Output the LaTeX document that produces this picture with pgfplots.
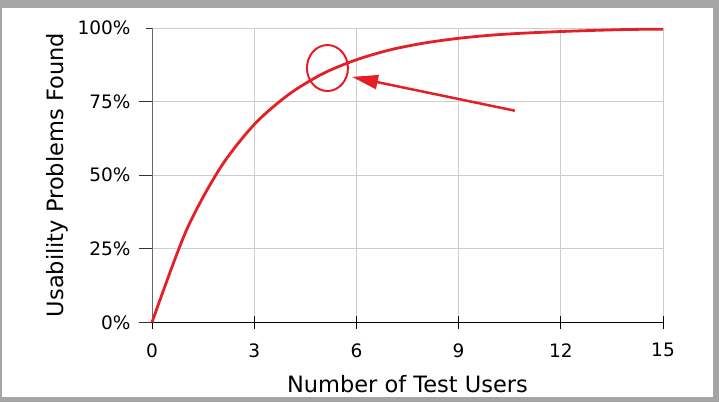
\documentclass[border=0pt]{standalone}
\usepackage{pgfplots}
\pgfplotsset{compat=1.18}
\usepackage{fontspec}
\setmainfont{DejaVu Sans}
\usetikzlibrary{arrows.meta}
\definecolor{curvered}{RGB}{228,32,38}
\definecolor{gridgray}{RGB}{205,205,205}
\definecolor{framegray}{RGB}{165,165,165}
\begin{document}
\begin{tikzpicture}[x=1pt,y=1pt]
\fill[framegray] (0,0) rectangle (719,402);
\fill[white] (2,5) rectangle (713,394);
\begin{axis}[
  at={(152pt,79.7pt)}, anchor=south west,
  scale only axis, width=511pt, height=294.3pt,
  xmin=0, xmax=15, ymin=0, ymax=100,
  axis x line*=bottom, axis y line*=left,
  x axis line style={black, line width=1pt, -},
  y axis line style={black!60, line width=1pt, -},
  xtick={0,3,6,9,12,15}, ytick={0,25,50,75,100},
  yticklabels={0\%,25\%,50\%,75\%,100\%},
  grid=major, major grid style={gridgray, line width=0.9pt},
  xtick align=center, ytick align=outside,
  major tick length=13pt,
  x tick style={black, line width=1pt},
  y tick style={black!80, line width=0.8pt, shorten <=7pt},
  /pgf/number format/assume math mode=true,
  tick label style={font=\fontsize{18.5}{18.5}\selectfont},
  xticklabel style={anchor=north, yshift=-11pt},
  yticklabel style={anchor=east, xshift=-5pt},
  every axis x label/.style={at={(axis description cs:0.5,-0.21)}, anchor=center, inner sep=0pt, font=\fontsize{22.5}{22.5}\selectfont},
  every axis y label/.style={at={(axis description cs:-0.185,0.5)}, anchor=center, rotate=90, inner sep=0pt, font=\fontsize{22.5}{22.5}\selectfont},
  xlabel={Number of Test Users},
  ylabel={Usability Problems Found},
  clip=false,
]
\addplot[curvered, line width=2.8pt, line join=round, smooth, tension=0.5] coordinates {
(0,0) (1,31) (2,52.4) (3,67.2) (4,77.3) (5,84.4) (6,89.2) (7,92.6)
(8,94.9) (9,96.5) (10,97.6) (11,98.3) (12,98.8) (13,99.2) (14,99.5) (15,99.6)
};
\draw[curvered, line width=2pt] (axis cs:5.15,86.4) ellipse [x radius=20.5pt, y radius=23pt];
\addplot[curvered, line width=2.5pt, -{Stealth[length=26pt, width=14pt, inset=0pt]}] coordinates {(10.65,71.9) (5.87,83.4)};
\end{axis}
\end{tikzpicture}
\end{document}
